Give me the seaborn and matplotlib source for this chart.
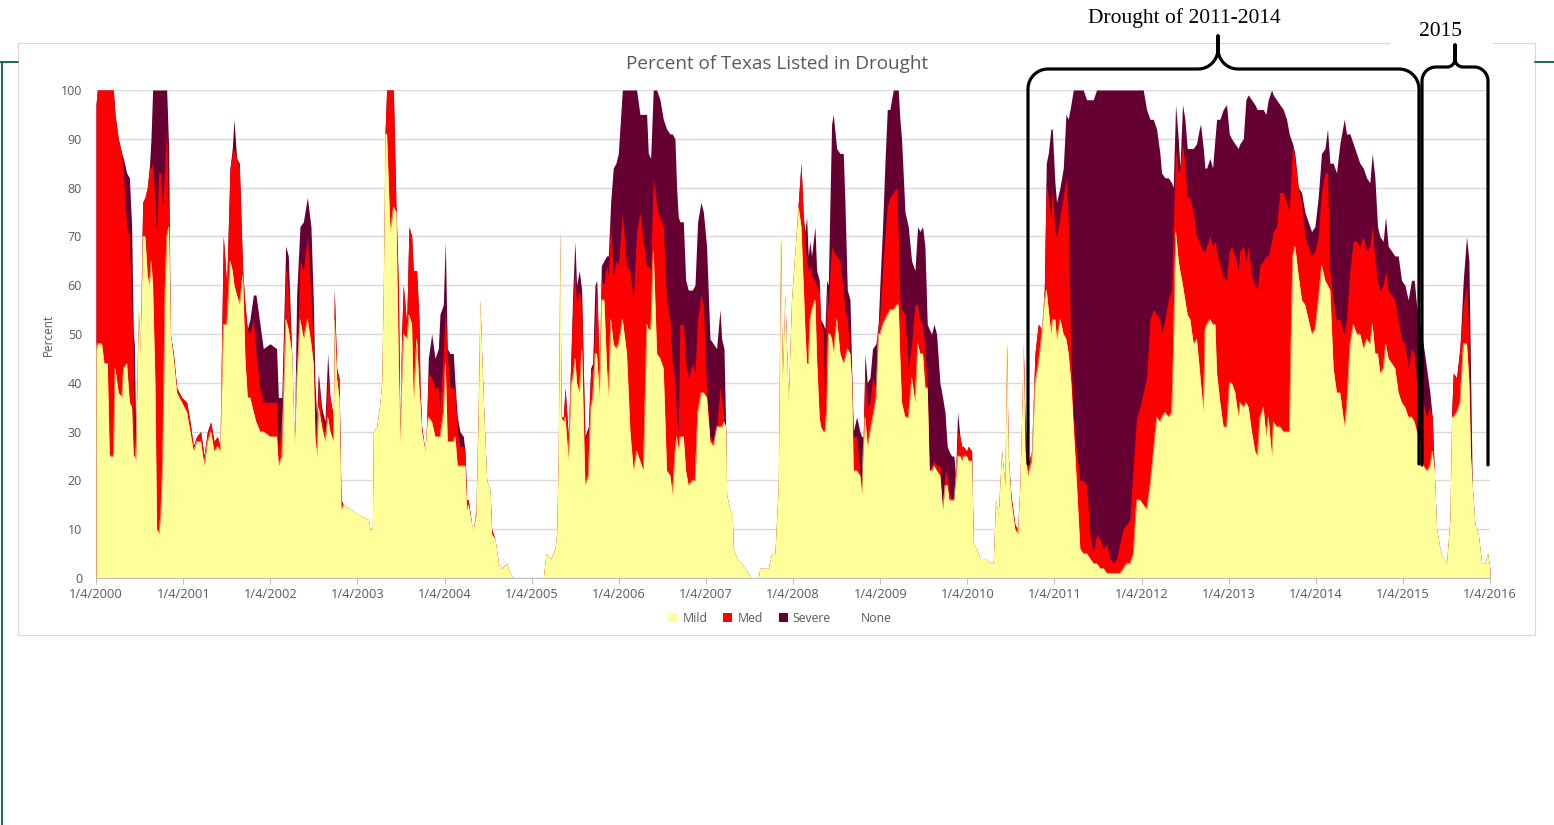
import numpy as np
import pandas as pd
import matplotlib
matplotlib.use("Agg")
import matplotlib.pyplot as plt
import seaborn as sns
from matplotlib.lines import Line2D
from matplotlib.patches import Patch, Rectangle

# ---------------- data ----------------
# time in years after 1/4/2000; values are the top edge of each coloured band (percent of Texas)
t_years = [
    0.000,0.015,0.065,0.092,0.130,0.153,0.199,0.218,0.256,0.295,0.314,0.352,0.383,0.409,0.428,0.440,0.455,0.486,0.505,0.536,0.562,0.589,0.612,0.631,0.650,0.677,0.696,0.719,0.742,0.765,0.792,0.811,0.834,0.853,0.888,0.926,0.983,
    1.041,1.079,1.117,1.155,1.201,1.240,1.278,1.316,1.354,1.393,1.423,1.461,1.500,1.538,1.564,1.584,1.614,1.645,1.683,1.710,1.737,1.767,1.806,1.836,1.882,1.920,1.997,
    2.073,2.093,2.132,2.177,2.207,2.246,2.276,2.303,2.341,2.380,2.426,2.467,2.494,2.513,2.533,2.552,2.590,2.628,2.659,2.686,2.724,2.735,2.762,2.789,2.812,2.839,2.934,3.011,3.126,3.145,3.172,3.183,3.222,3.259,3.279,3.298,3.317,3.336,3.375,3.413,3.443,3.470,3.489,3.508,3.527,3.566,3.592,3.623,3.642,3.680,3.707,3.719,3.738,3.776,3.795,3.814,3.853,3.891,3.929,3.948,
    3.986,4.009,4.032,4.063,4.101,4.120,4.147,4.177,4.216,4.235,4.254,4.273,4.311,4.330,4.361,4.388,4.407,4.426,4.453,4.484,4.522,4.541,4.579,4.618,4.656,4.713,4.751,4.790,5.134,5.164,5.221,5.268,5.287,5.306,5.325,5.337,5.364,5.384,5.421,5.452,5.471,5.497,5.516,5.547,5.574,5.612,5.650,5.677,5.700,5.727,5.746,5.777,5.800,5.830,5.861,5.880,5.907,5.937,5.968,5.995,
    6.041,6.090,6.129,6.167,6.205,6.243,6.282,6.320,6.339,6.366,6.396,6.435,6.473,6.511,6.549,6.588,6.614,6.645,6.664,6.683,6.702,6.741,6.768,6.798,6.844,6.875,6.905,6.944,6.971,7.008,7.047,7.085,7.123,7.162,7.181,7.208,7.227,7.238,7.276,7.303,7.314,7.353,7.410,7.448,7.487,7.525,7.601,7.620,7.716,7.754,7.792,7.831,7.857,7.876,7.907,7.945,7.983,
    8.034,8.061,8.092,8.118,8.137,8.156,8.175,8.194,8.213,8.252,8.271,8.301,8.317,8.347,8.367,8.386,8.405,8.424,8.443,8.462,8.501,8.539,8.577,8.596,8.623,8.654,8.673,8.692,8.730,8.768,8.787,8.806,8.826,8.852,8.883,8.913,8.952,8.978,8.997,9.028,9.055,9.082,9.112,9.151,9.189,9.208,9.227,9.246,9.285,9.323,9.361,9.400,9.430,9.457,9.487,9.514,9.541,9.564,9.591,9.618,9.648,9.686,9.717,9.744,9.770,9.790,9.820,9.847,9.866,9.889,9.916,9.935,9.954,9.992,
    10.012,10.050,10.069,10.107,10.145,10.203,10.272,10.298,10.325,10.356,10.394,10.432,10.451,10.471,10.501,10.547,10.578,10.604,10.624,10.643,10.662,10.693,10.738,10.777,10.815,10.853,10.884,10.907,10.930,10.960,10.976,11.006,11.025,11.064,11.102,11.133,11.159,11.190,11.217,11.255,11.293,11.331,11.370,11.408,11.446,11.484,11.523,11.561,11.599,11.637,11.676,11.714,11.752,11.790,11.829,11.867,11.905,11.943,11.982,
    12.020,12.058,12.097,12.135,12.173,12.211,12.230,12.269,12.307,12.345,12.364,12.391,12.422,12.441,12.471,12.498,12.525,12.556,12.594,12.632,12.663,12.678,12.709,12.728,12.747,12.785,12.816,12.843,12.862,12.900,12.938,12.976,13.007,13.034,13.072,13.110,13.129,13.168,13.198,13.225,13.263,13.301,13.328,13.359,13.397,13.428,13.454,13.493,13.512,13.550,13.588,13.627,13.665,13.695,13.734,13.760,13.799,13.837,13.875,13.913,13.952,13.990,
    14.028,14.066,14.105,14.135,14.162,14.200,14.238,14.277,14.327,14.353,14.392,14.430,14.468,14.506,14.545,14.583,14.621,14.648,14.679,14.709,14.736,14.774,14.801,14.831,14.870,14.908,14.946,14.984,15.023,15.061,15.099,15.130,15.157,15.195,15.233,15.272,15.310,15.337,15.360,15.387,15.425,15.463,15.501,15.540,15.559,15.578,15.616,15.654,15.693,15.731,15.758,15.777,15.796,15.826,15.865,15.903,15.941,15.972,15.998,
]
mild_top = [
    46,48,48,44,44,25,25,43,38,37,43,44,36,35,25,25,24,55,46,70,70,62,60,65,60,40,10,9,13,25,60,70,72,50,45,38,36,
    34,30,26,28,28,23,28,30,26,27,26,52,52,65,63,60,58,56,62,45,37,37,34,32,30,30,29,
    29,23,25,53,51,46,27,41,53,49,53,48,44,29,25,35,31,28,33,30,28,53,41,37,14,15,14,13,12,10,10,30,31,36,40,60,91,91,71,76,75,45,28,40,50,49,54,52,36,49,39,36,30,26,31,33,32,29,29,29,
    34,44,28,28,28,29,23,23,23,23,14,15,11,10,13,35,57,46,33,20,18,9,8,3,2,3,1,0,0,5,4,6,9,26,71,33,32,33,24,40,41,45,40,38,47,19,21,35,37,46,46,37,57,57,43,37,53,48,47,48,
    53,46,30,22,26,24,22,52,51,51,67,46,45,43,22,21,17,26,29,26,29,29,22,19,20,20,34,38,38,37,28,27,31,31,31,32,31,17,14,13,6,4,3,2,1,0,0,2,2,5,5,19,70,40,58,36,57,
    70,76,72,60,51,44,44,53,55,57,45,33,31,30,30,35,50,50,49,46,53,46,44,45,47,46,40,22,22,21,17,27,33,27,30,33,37,50,50,52,53,54,55,55,56,56,45,36,33,33,41,36,48,46,46,39,39,22,22,23,22,21,14,19,19,16,16,16,20,25,25,24,25,25,
    24,24,7,6,4,4,3,3,16,13,26,19,48,25,16,10,9,19,33,48,26,21,24,40,44,50,57,59,55,50,53,53,49,53,50,49,46,40,31,19,6,5,5,4,3,3,2,2,1,1,1,1,1,2,3,3,5,16,16,
    15,14,19,26,33,32,33,34,33,34,46,71,65,63,60,57,54,53,48,49,43,40,34,51,52,53,52,52,42,36,31,31,40,40,38,33,36,35,36,35,30,26,25,33,35,29,33,25,32,31,31,30,30,30,66,68,62,57,56,53,50,51,
    57,64,61,60,59,43,38,38,31,35,48,52,50,50,47,49,48,52,46,46,42,43,48,45,44,43,38,36,35,33,33,32,30,28,23,22,23,26,22,10,6,4,3,12,33,33,34,36,48,48,40,25,19,11,9,3,3,5,2,
]
med_top = [
    97,100,100,100,100,100,100,95,90,87,83,72,70,55,48,28,26,55,46,77,78,80,84,84,85,78,70,83,83,76,86,92,73,50,46,39,37,
    36,32,27,29,30,25,30,32,28,29,27,70,60,84,87,88,86,84,63,56,51,50,53,46,39,36,36,
    36,26,33,64,59,46,27,41,65,63,70,58,48,33,29,41,33,30,41,37,33,59,43,41,16,15,14,13,12,10,10,30,31,36,40,60,91,100,100,100,76,60,30,50,60,52,72,70,63,63,53,39,31,26,32,42,41,39,39,35,
    46,55,46,39,39,39,30,27,27,26,16,16,11,10,14,36,57,46,33,20,18,10,8,3,2,3,1,0,0,5,4,6,9,26,71,33,33,39,29,46,55,63,56,59,56,28,30,42,43,53,61,42,61,60,64,62,73,62,65,64,
    75,64,63,57,71,75,69,64,64,63,82,76,74,72,57,53,44,41,33,30,52,52,44,41,44,42,53,58,56,39,29,28,31,39,37,32,31,17,14,13,6,4,3,2,1,0,0,2,2,5,5,19,70,40,58,36,57,
    70,77,85,74,69,65,63,64,62,61,60,59,52,51,33,59,55,63,68,67,66,65,59,55,53,46,41,29,29,22,17,29,43,35,36,41,39,52,54,63,70,76,78,79,80,71,57,55,54,43,48,56,56,53,52,47,39,22,23,24,23,23,14,22,21,18,16,16,21,30,29,27,27,26,
    27,26,7,6,4,4,3,3,16,13,26,19,48,25,17,11,10,19,33,48,33,23,26,46,52,51,59,81,78,74,80,71,70,74,78,82,74,46,33,26,20,20,19,9,5,9,8,6,7,4,3,4,7,10,11,12,23,33,35,
    38,41,53,55,54,53,50,53,57,59,72,88,83,84,89,85,78,78,75,70,69,68,67,67,68,70,68,69,67,64,62,61,67,68,66,63,67,68,65,68,62,60,59,64,65,66,66,69,71,72,79,79,77,75,89,86,80,77,70,68,66,67,
    70,79,83,83,63,57,53,53,50,53,63,69,69,68,70,67,68,72,65,61,59,60,63,59,58,57,53,49,48,43,47,46,40,39,36,33,35,33,22,10,6,4,3,12,33,42,41,47,56,60,50,26,19,11,9,3,3,5,2,
]
severe_top = [
    97,100,100,100,100,100,100,95,90,87,86,83,82,72,50,48,30,55,46,77,78,80,84,90,100,100,100,100,100,100,100,100,88,50,46,39,37,
    36,32,27,29,30,25,30,32,28,29,27,70,60,84,88,94,86,85,63,56,51,53,58,58,52,47,48,
    47,37,37,68,66,46,27,58,72,73,78,72,57,40,33,42,35,32,46,37,33,59,43,41,16,15,14,13,12,10,10,30,31,36,40,60,91,100,100,100,76,60,30,50,60,52,72,70,63,63,53,39,31,26,32,45,50,45,47,54,
    56,69,47,46,46,40,33,30,29,26,16,16,11,10,14,36,57,46,33,20,18,10,8,3,2,3,1,0,0,5,4,6,9,26,71,33,33,39,29,46,58,69,60,63,59,29,31,43,44,60,61,43,64,65,66,66,77,84,85,87,
    100,100,100,100,100,95,95,95,87,86,100,100,98,94,92,91,91,90,80,74,73,73,61,59,59,60,73,77,75,68,49,48,47,55,49,47,31,17,14,13,6,4,3,2,1,0,0,2,2,5,5,19,70,40,58,36,57,
    70,77,85,74,71,74,66,69,66,72,63,61,53,52,51,61,60,77,93,95,88,87,87,77,59,57,43,30,33,30,29,29,46,40,41,47,48,52,60,72,85,96,96,100,100,100,94,90,75,72,65,63,72,71,72,68,52,51,50,52,50,40,37,34,27,26,25,25,21,34,29,27,27,26,
    27,26,7,6,4,4,3,3,16,13,26,19,48,25,17,11,10,19,33,48,33,23,26,46,52,51,59,85,87,92,92,81,77,80,84,95,94,97,100,100,100,100,98,98,98,100,100,100,100,100,100,100,100,100,100,100,100,100,100,
    100,96,94,94,92,87,83,82,82,81,80,97,90,84,97,94,88,88,88,89,92,93,88,84,84,86,84,90,94,94,96,97,91,90,89,88,89,90,98,99,98,97,96,96,96,95,98,100,99,98,97,96,94,91,89,87,80,79,75,73,71,72,
    78,87,88,92,85,85,83,89,94,91,91,89,87,85,84,82,81,87,82,72,70,69,74,68,67,66,66,61,60,57,61,61,56,52,48,43,38,33,22,10,6,4,3,12,33,42,41,47,61,70,65,42,19,11,9,3,3,5,2,
]
series_labels = ["Mild", "Med", "Severe", "None"]
tick_years = list(range(2000, 2017))
y_ticks = list(range(0, 101, 10))

assert len(t_years) == len(mild_top) == len(med_top) == len(severe_top)

# ---------------- styling ----------------
C_MILD, C_MED, C_SEV = "#FFFF99", "#FF0000", "#660033"
GRAY_TXT = "#595959"
W, H = 1554, 825

sns.set_theme(style="white")
plt.rcParams["font.family"] = ["Open Sans", "DejaVu Sans"]

start = pd.Timestamp("2000-01-04")
dates = start + pd.to_timedelta(np.array(t_years) * 365.25, unit="D")
df = pd.DataFrame({"date": dates, "Mild": mild_top, "Med": med_top, "Severe": severe_top})

fig = plt.figure(figsize=(W / 100, H / 100), dpi=100)
fig.patch.set_facecolor("white")

def fx(x):
    return x / W

def fy(y):
    return 1 - y / H

ax = fig.add_axes([fx(96), fy(578), (1490 - 96) / W, (578 - 90) / H])
ax.set_axisbelow(True)
ax.yaxis.grid(True, color="#d9d9d9", lw=1.0)
ax.xaxis.grid(False)

for i, (col, c) in enumerate([("Severe", C_SEV), ("Med", C_MED), ("Mild", C_MILD)]):
    ax.fill_between(df["date"], 0, df[col], color=c, lw=0, zorder=2 + 0.2 * i)
# soft yellow outline on the mild band (pale, so it does not tint the darker bands)
sns.lineplot(data=df, x="date", y="Mild", color=C_MILD, lw=0.3, estimator=None,
             sort=False, ax=ax, zorder=2.6, legend=False)

xt = [pd.Timestamp(f"{y}-01-04") for y in tick_years]
ax.set_xticks(xt)
ax.set_xticklabels([f"1/4/{y}" for y in tick_years])
ax.set_xlim(xt[0], xt[-1])
ax.set_ylim(0, 100)
ax.set_yticks(y_ticks)
ax.set_xlabel("")
ax.set_ylabel("")
ax.tick_params(axis="x", length=4, width=0.8, color="#bfbfbf", labelsize=9.3,
               labelcolor=GRAY_TXT, pad=3, direction="out", bottom=True)
ax.tick_params(axis="y", length=0, labelsize=9, labelcolor=GRAY_TXT, pad=10)
for s in ["top", "right", "left"]:
    ax.spines[s].set_visible(False)
ax.spines["bottom"].set_color("#bfbfbf")
ax.spines["bottom"].set_linewidth(0.8)
ax.patch.set_alpha(0)

# title / axis label
fig.text(fx(777), fy(64), "Percent of Texas Listed in Drought", ha="center", va="center",
         fontsize=13.6, color=GRAY_TXT)
fig.text(fx(48), fy(335), "Percent", rotation=90, ha="center", va="center",
         fontsize=8.5, color=GRAY_TXT)

# legend
handles = [Patch(facecolor=C_MILD, edgecolor="none"),
           Patch(facecolor=C_MED, edgecolor="none"),
           Patch(facecolor=C_SEV, edgecolor="none"),
           Patch(facecolor="white", edgecolor="none")]
fig.legend(handles, series_labels, loc="center", bbox_to_anchor=(fx(780), fy(618)),
           ncol=4, frameon=False, handlelength=0.75, handleheight=0.75,
           handletextpad=0.4, columnspacing=1.3, labelcolor=GRAY_TXT,
           prop={"family": ["Open Sans", "DejaVu Sans"], "size": 8.8})

# chart frame and green page lines
fig.add_artist(Rectangle((fx(18), fy(635)), (1535 - 18) / W, (635 - 43) / H,
                         transform=fig.transFigure, fill=False, ec="#d9d9d9", lw=0.8, zorder=1))
fig.add_artist(Rectangle((fx(1390), fy(48)), (1493 - 1390) / W, 10 / H,
                         transform=fig.transFigure, fc="white", ec="none", zorder=1.5))
GREEN = "#17694f"
for xs, ys in [([1.5, 1.5], [62, 825]), ([0, 18], [62, 62]), ([1535, 1554], [62, 62])]:
    fig.add_artist(Line2D([fx(v) for v in xs], [fy(v) for v in ys], transform=fig.transFigure,
                          color=GREEN, lw=1.4, zorder=1))

# braces
def arc(cx, cy, r, a0, a1, n=16):
    a = np.radians(np.linspace(a0, a1, n))
    return list(cx + r * np.cos(a)), list(cy + r * np.sin(a))

def brace(xl, xr, xt_, yh, ytip, ybot, r, rt):
    X, Y = [xl], [ybot]
    for seg in [arc(xl + r, yh + r, r, 180, 270),
                arc(xt_ - rt, yh - rt, rt, 90, 0)]:
        X += seg[0]; Y += seg[1]
    X += [xt_, xt_]; Y += [ytip, yh - rt]
    for seg in [arc(xt_ + rt, yh - rt, rt, 180, 90),
                arc(xr - r, yh + r, r, 270, 360)]:
        X += seg[0]; Y += seg[1]
    X += [xr]; Y += [ybot]
    fig.add_artist(Line2D([fx(v) for v in X], [fy(v) for v in Y], transform=fig.transFigure,
                          color="black", lw=2.3, solid_joinstyle="round", zorder=5))

brace(1028, 1419, 1218, 69, 36, 464, 20, 20)
brace(1422, 1488, 1455, 67, 45, 465, 14, 8)

fig.text(fx(1184), fy(18), "Drought of 2011-2014", ha="center", va="center",
         fontsize=15.5, family=["Liberation Serif", "DejaVu Serif"], color="black", zorder=6)
fig.text(fx(1440), fy(31), "2015", ha="center", va="center",
         fontsize=15.5, family=["Liberation Serif", "DejaVu Serif"], color="black", zorder=6)

fig.savefig("out.png", dpi=100, facecolor="white")
